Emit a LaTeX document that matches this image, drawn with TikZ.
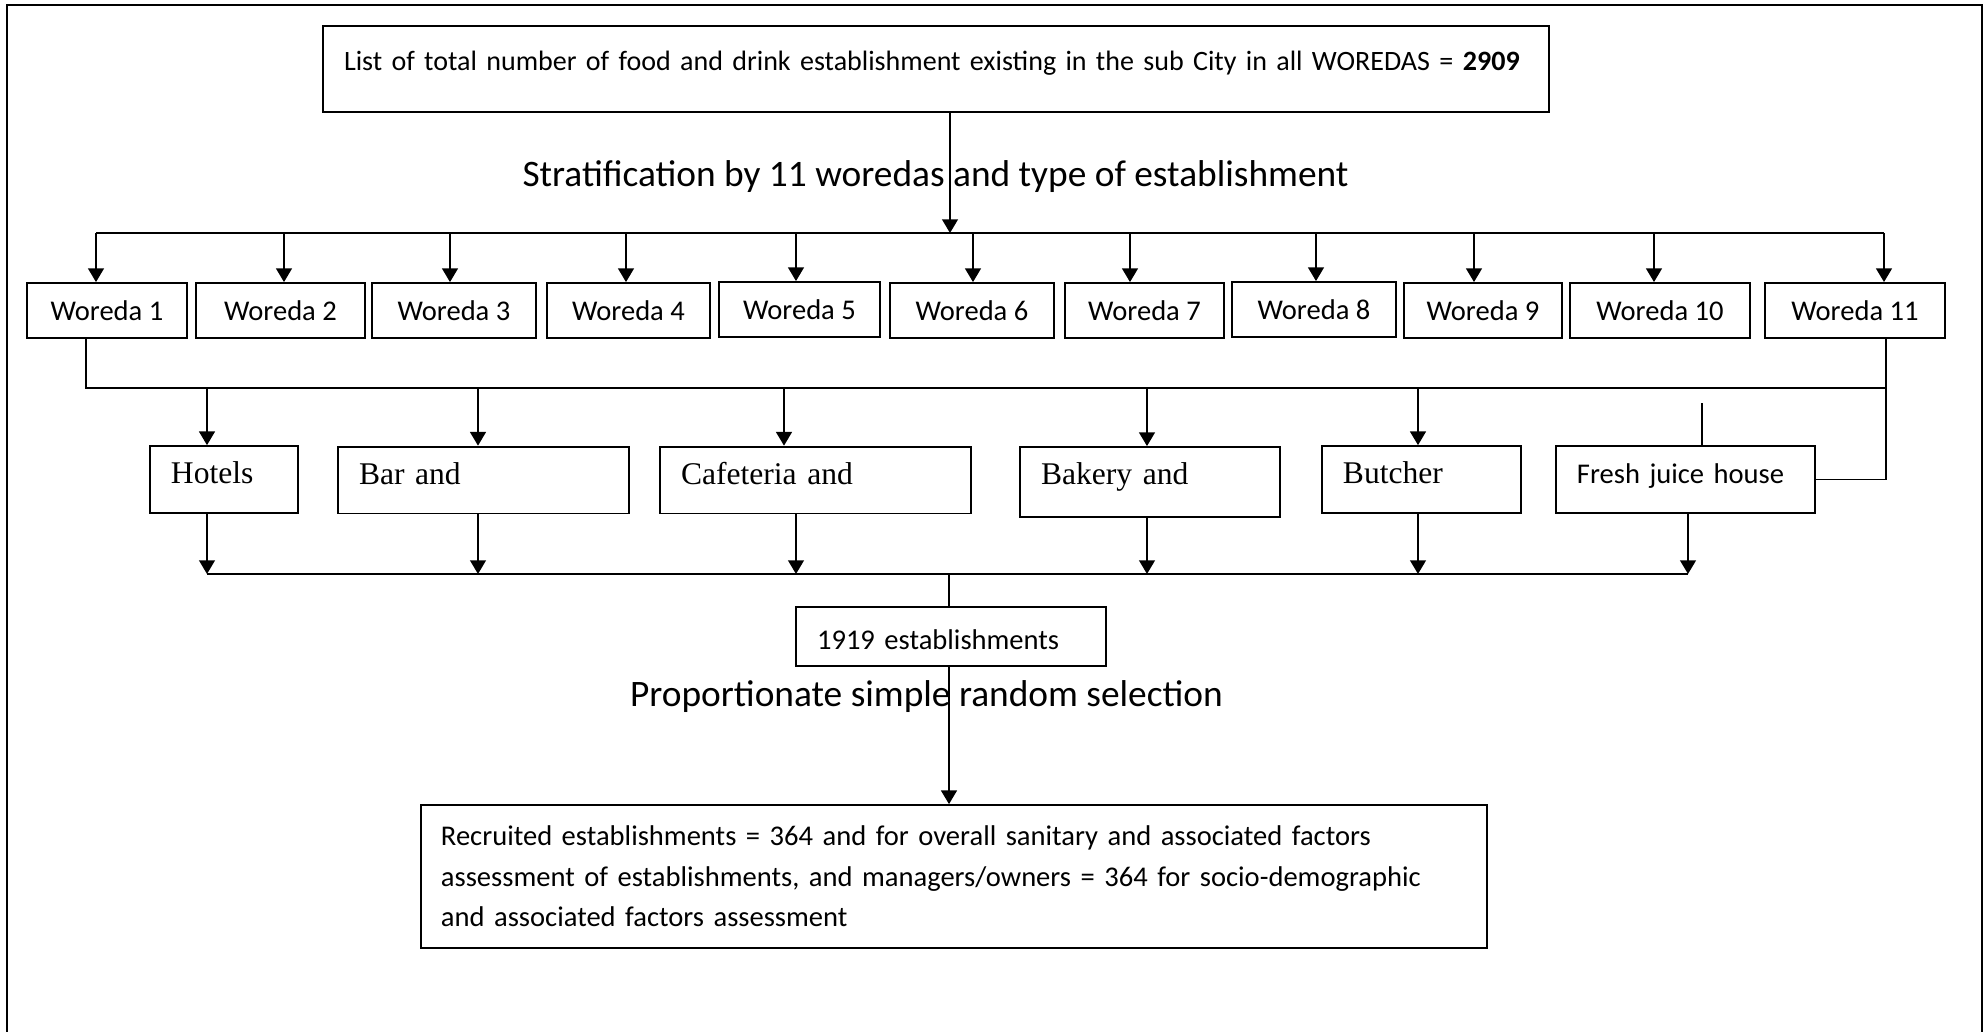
\documentclass[tikz,border=0pt]{standalone}
\usepackage{fontspec}
\setmainfont{Carlito}
\newfontfamily\timesfont{Liberation Serif}
\usetikzlibrary{arrows.meta}

\begin{document}
\begin{tikzpicture}[x=0.38pt, y=-0.38pt, font=\fontsize{10.85}{13}\selectfont,
    box/.style={draw, line width=0.7pt, inner xsep=8pt, inner ysep=0pt, align=left},
    wbox/.style={draw, line width=0.7pt, inner sep=0pt, minimum height=20.9pt},
    cbox/.style={box, text height=14.4pt, text depth=11pt, font=\timesfont\fontsize{12}{14}\selectfont},
    arr/.style={line width=0.7pt, -{Triangle[length=5.2pt, width=6pt]}},
    link/.style={line width=0.7pt},
    title/.style={font=\fontsize{14.2}{17}\selectfont}]
    \useasboundingbox (0,0) rectangle (1988,1032);

    % Frame
    \draw[line width=1pt] (7,1032) -- (7,5) -- (1982,5) -- (1982,1032);

    % All establishments
    \node[box, text width=449.9pt, text height=16.8pt, text depth=15.9pt, font=\fontsize{10.65}{13}\selectfont] (list) at (936,69)
        {\mbox{List of total number of food and drink establishment existing in the sub City in all WOREDAS = \textbf{2909}}};
    \node[title] (strat) at (935.5,177) {Stratification by 11 woredas and type of establishment};

    % Woredas
    \node[wbox, minimum width=60.8pt] (W1) at (107,310.5) {Woreda 1};
    \node[wbox, minimum width=64.2pt] (W2) at (280.5,310.5) {Woreda 2};
    \node[wbox, minimum width=62.3pt] (W3) at (454,310.5) {Woreda 3};
    \node[wbox, minimum width=61.9pt] (W4) at (628.5,310.5) {Woreda 4};
    \node[wbox, minimum width=61.2pt] (W5) at (799.5,309.5) {Woreda 5};
    \node[wbox, minimum width=62.3pt] (W6) at (972,310.5) {Woreda 6};
    \node[wbox, minimum width=60.4pt] (W7) at (1144.5,310.5) {Woreda 7};
    \node[wbox, minimum width=62.3pt] (W8) at (1314,309.5) {Woreda 8};
    \node[wbox, minimum width=60.0pt] (W9) at (1483,310.5) {Woreda 9};
    \node[wbox, minimum width=68.4pt] (W10) at (1660,310.5) {Woreda 10};
    \node[wbox, minimum width=68.4pt] (W11) at (1855,310.5) {Woreda 11};

    % Types of establishment
    \node[cbox, text width=40.3pt] (hot) at (224,479.5) {Hotels};
    \node[cbox, text width=94.6pt] (bar) at (483.5,480) {Bar and};
    \node[cbox, text width=102.2pt] (caf) at (815.5,480) {Cafeteria and};
    \node[cbox, text width=82.8pt, text depth=12.2pt] (bak) at (1150,482) {Bakery and};
    \node[cbox, text width=59.7pt] (but) at (1421.5,479.5) {Butcher};
    \node[box, text width=82.5pt, text height=14.4pt, text depth=11pt] (fj) at (1685.5,479.5) {Fresh juice house};

    % Sample
    \node[box, text width=101.8pt, text height=16.2pt, text depth=6.2pt] (est) at (951,636.5) {1919 establishments};
    \node[title] (prop) at (926.5,697) {Proportionate simple random selection};
    \node[box, text width=389.9pt, inner xsep=7.6pt, text height=15.4pt, text depth=38.9pt,
        font=\fontsize{10.85}{15.4}\selectfont] (rec) at (954,876.5)
        {Recruited establishments = 364 and for overall sanitary and associated factors\\
         assessment of establishments, and managers/owners = 364 for socio-demographic\\
         and associated factors assessment};

    % Bus points
    \coordinate (c0) at (950,233);
    \coordinate (t1) at (96,233);
    \coordinate (t2) at (284,233);
    \coordinate (t3) at (450,233);
    \coordinate (t4) at (626,233);
    \coordinate (t5) at (796,233);
    \coordinate (t6) at (973,233);
    \coordinate (t7) at (1130,233);
    \coordinate (t8) at (1316,233);
    \coordinate (t9) at (1474,233);
    \coordinate (t10) at (1654,233);
    \coordinate (t11) at (1884,233);
    \coordinate (b1) at (86,388);
    \coordinate (b2) at (1886,388);
    \coordinate (h1) at (207,388);
    \coordinate (h2) at (478,388);
    \coordinate (h3) at (784,388);
    \coordinate (h4) at (1147,388);
    \coordinate (h5) at (1418,388);
    \coordinate (h6) at (1702,403);
    \coordinate (d1) at (207,574);
    \coordinate (d2) at (478,574);
    \coordinate (d3) at (796,574);
    \coordinate (d4) at (1147,574);
    \coordinate (d5) at (1418,574);
    \coordinate (d6) at (1688,574);
    \coordinate (m) at (949,574);

    % Lines to woredas
    \draw[arr] (c0 |- list.south) -- (c0);
    \draw[link] (t1) -- (t11);
    \draw[arr] (t1) -- (t1 |- W1.north);
    \draw[arr] (t2) -- (t2 |- W2.north);
    \draw[arr] (t3) -- (t3 |- W3.north);
    \draw[arr] (t4) -- (t4 |- W4.north);
    \draw[arr] (t5) -- (t5 |- W5.north);
    \draw[arr] (t6) -- (t6 |- W6.north);
    \draw[arr] (t7) -- (t7 |- W7.north);
    \draw[arr] (t8) -- (t8 |- W8.north);
    \draw[arr] (t9) -- (t9 |- W9.north);
    \draw[arr] (t10) -- (t10 |- W10.north);
    \draw[arr] (t11) -- (t11 |- W11.north);

    % Lines to types
    \draw[link] (b1 |- W1.south) -- (b1) -- (b2);
    \draw[link] (b2 |- W11.south) -- (b2 |- fj.east) -- (fj.east);
    \draw[arr] (h1) -- (h1 |- hot.north);
    \draw[arr] (h2) -- (h2 |- bar.north);
    \draw[arr] (h3) -- (h3 |- caf.north);
    \draw[arr] (h4) -- (h4 |- bak.north);
    \draw[arr] (h5) -- (h5 |- but.north);
    \draw[link] (h6) -- (h6 |- fj.north);

    % Lines to sample
    \draw[arr] (d1 |- hot.south) -- (d1);
    \draw[arr] (d2 |- bar.south) -- (d2);
    \draw[arr] (d3 |- caf.south) -- (d3);
    \draw[arr] (d4 |- bak.south) -- (d4);
    \draw[arr] (d5 |- but.south) -- (d5);
    \draw[arr] (d6 |- fj.south) -- (d6);
    \draw[link] (d1) -- (d6);
    \draw[link] (m) -- (m |- est.north);
    \draw[arr] (m |- est.south) -- (m |- rec.north);
\end{tikzpicture}
\end{document}
